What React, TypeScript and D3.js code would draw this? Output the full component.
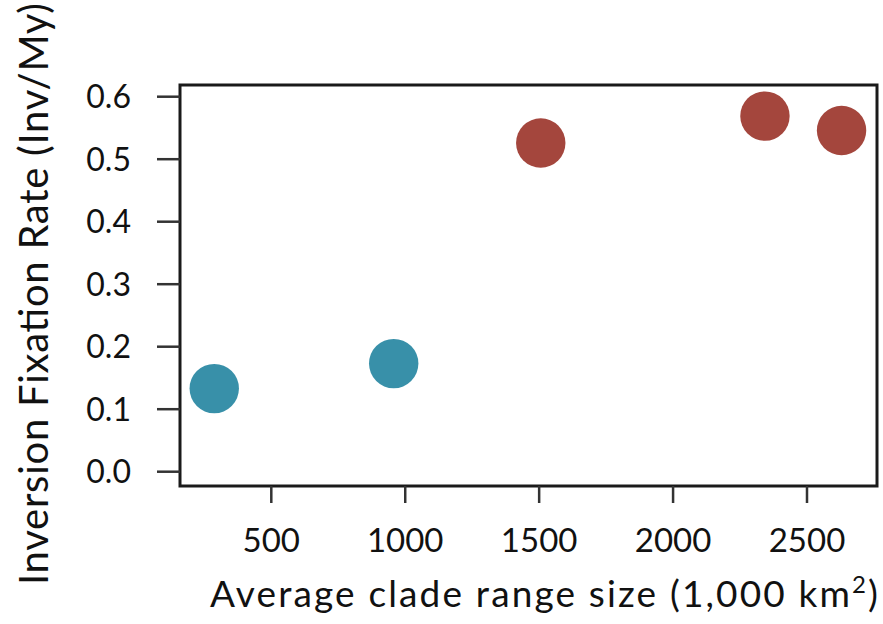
import React from "react";
import * as d3 from "d3";

// Clade range sizes (1,000 km²) and inversion fixation rates (Inv/My)
const rangeSize = [287, 957, 1506, 2343, 2629];
const fixationRate = [0.133, 0.173, 0.526, 0.569, 0.546];
const group = ["low", "low", "high", "high", "high"];

const xTicks = [500, 1000, 1500, 2000, 2500];
const yTicks = [0.0, 0.1, 0.2, 0.3, 0.4, 0.5, 0.6];

const groupColor: Record<string, string> = { low: "#3890a9", high: "#a4463d" };

const W = 883;
const H = 624;
const box = { left: 180, right: 877, top: 85, bottom: 486 };

export default function App() {
  const x = d3
    .scaleLinear()
    .domain([500, 2500])
    .range([271.3, 807]);
  const y = d3
    .scaleLinear()
    .domain([0, 0.6])
    .range([471.7, 96.7]);

  const font = "Lato, 'Open Sans', sans-serif";

  return (
    <svg
      width={W}
      height={H}
      style={{ position: "absolute", left: 0, top: 0, background: "#fff" }}
      fontFamily={font}
    >
      <rect x={0} y={0} width={W} height={H} fill="#fff" />
      {/* plot frame */}
      <rect
        x={box.left}
        y={box.top}
        width={box.right - box.left}
        height={box.bottom - box.top}
        fill="none"
        stroke="#1a1a1a"
        strokeWidth={3}
      />
      {/* y axis */}
      {yTicks.map((t) => (
        <g key={"y" + t}>
          <line x1={157} x2={box.left} y1={y(t)} y2={y(t)} stroke="#333" strokeWidth={2.5} />
          <text
            x={131}
            y={y(t)}
            dy="0.36em"
            textAnchor="end"
            fontSize={32}
            fill="#111"
          >
            {d3.format(".1f")(t)}
          </text>
        </g>
      ))}
      {/* x axis */}
      {xTicks.map((t) => (
        <g key={"x" + t}>
          <line x1={x(t)} x2={x(t)} y1={box.bottom} y2={503} stroke="#333" strokeWidth={2.5} />
          <text x={x(t)} y={552} textAnchor="middle" fontSize={33} fill="#111">
            {t}
          </text>
        </g>
      ))}
      {/* points */}
      {rangeSize.map((v, i) => (
        <circle
          key={"p" + i}
          cx={x(v)}
          cy={y(fixationRate[i])}
          r={24.7}
          fill={groupColor[group[i]]}
        />
      ))}
      {/* axis titles */}
      <text
        x={210}
        y={607}
        fontSize={37}
        fill="#111"
        textLength={668}
        lengthAdjust="spacing"
      >
        Average clade range size (1,000 km
        <tspan dy={-14} fontSize={24}>2</tspan>
        <tspan dy={14}>)</tspan>
      </text>
      <text
        transform={`translate(48, 585) rotate(-90)`}
        fontSize={40}
        fill="#111"
        textLength={582}
        lengthAdjust="spacing"
      >
        Inversion Fixation Rate (Inv/My)
      </text>
    </svg>
  );
}
